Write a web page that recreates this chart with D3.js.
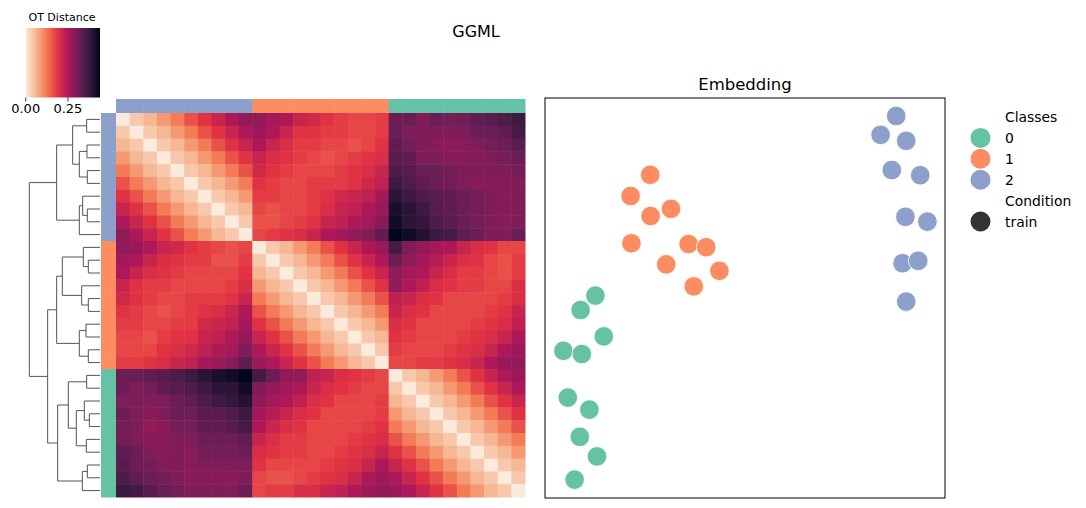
<!DOCTYPE html>
<html>
<head>
<meta charset="utf-8">
<script src="https://cdn.jsdelivr.net/npm/d3@7"></script>
<style>
  body { margin: 0; background: #fff; }
  svg { display: block; font-family: "DejaVu Sans", sans-serif; }
</style>
</head>
<body>
<div id="chart"></div>
<script>
// OT distances between the 30 datasets (x 0.01), rows already in dendrogram order
var otDist = [
  [0,4,6,9,12,16,19,22,25,28, 28,26,25,22,21,19,18,17,17,18, 32,32,30,32,31,31,33,34,35,37],
  [4,0,4,6,9,12,16,19,22,25, 27,25,22,19,19,18,18,17,17,18, 32,30,30,30,30,30,32,32,33,36],
  [6,4,0,4,6,9,12,16,19,22, 25,22,20,18,18,17,17,16,17,19, 33,31,30,29,28,29,30,31,32,34],
  [9,6,4,0,4,6,9,12,16,19, 22,20,19,18,17,16,17,18,19,20, 34,33,30,30,29,29,29,30,31,32],
  [12,9,6,4,0,4,6,9,12,16, 21,19,18,17,17,17,18,19,20,22, 35,34,32,32,31,30,30,30,30,31],
  [16,12,9,6,4,0,4,6,9,12, 19,18,17,17,18,18,18,19,21,23, 37,35,33,32,31,30,29,29,29,30],
  [19,16,12,9,6,4,0,4,6,9, 18,18,17,17,18,19,21,22,23,26, 39,37,35,34,33,32,31,30,29,30],
  [22,19,16,12,9,6,4,0,4,6, 17,16,17,17,18,20,22,23,25,27, 41,39,37,34,33,32,31,30,29,30],
  [25,22,19,16,12,9,6,4,0,4, 16,16,17,18,19,22,23,25,26,29, 42,39,38,35,34,32,31,30,29,30],
  [28,25,22,19,16,12,9,6,4,0, 17,18,19,20,22,25,26,28,30,33, 44,42,40,37,36,33,32,30,30,32],
  [28,27,25,22,21,19,18,17,16,17, 0,4,6,9,12,16,19,22,25,27, 36,30,28,26,25,22,20,19,17,17],
  [26,25,22,20,19,18,18,16,16,18, 4,0,4,6,9,12,16,19,22,25, 32,28,26,24,22,20,19,17,16,18],
  [25,22,20,19,18,17,17,17,17,19, 6,4,0,4,6,9,12,16,19,22, 28,26,25,22,20,18,18,17,16,18],
  [22,19,18,18,17,17,17,17,18,20, 9,6,4,0,4,6,9,12,16,19, 28,25,23,20,19,18,18,17,17,20],
  [21,19,18,17,17,18,18,18,19,22, 12,9,6,4,0,4,6,9,12,16, 23,22,20,19,17,17,17,17,18,20],
  [19,18,17,16,17,18,19,20,22,25, 16,12,9,6,4,0,4,6,9,12, 22,20,19,17,17,17,17,18,19,22],
  [18,18,17,17,18,18,21,22,23,26, 19,16,12,9,6,4,0,4,6,9, 20,19,17,17,17,17,18,19,20,23],
  [17,17,16,18,19,19,22,23,25,28, 22,19,16,12,9,6,4,0,4,6, 19,18,17,17,17,18,19,20,22,25],
  [17,17,17,19,20,21,23,25,26,30, 25,22,19,16,12,9,6,4,0,4, 18,17,17,17,18,19,20,22,25,27],
  [18,18,19,20,22,23,26,27,29,33, 27,25,22,19,16,12,9,6,4,0, 17,17,18,18,19,20,22,25,27,28],
  [32,32,33,34,35,37,39,41,42,44, 36,32,28,28,23,22,20,19,18,17, 0,4,6,9,12,16,19,22,25,27],
  [32,30,31,33,34,35,37,39,39,42, 30,28,26,25,22,20,19,18,17,17, 4,0,4,6,9,12,16,19,22,25],
  [30,30,30,30,32,33,35,37,38,40, 28,26,25,23,20,19,17,17,17,18, 6,4,0,4,6,9,12,16,19,22],
  [32,30,29,30,32,32,34,34,35,37, 26,24,22,20,19,17,17,17,17,18, 9,6,4,0,4,6,9,12,16,19],
  [31,30,28,29,31,31,33,33,34,36, 25,22,20,19,17,17,17,17,18,19, 12,9,6,4,0,4,6,9,12,16],
  [31,30,29,29,30,30,32,32,32,33, 22,20,18,18,17,17,17,18,19,20, 16,12,9,6,4,0,4,6,9,12],
  [33,32,30,29,30,29,31,31,31,32, 20,19,18,18,17,17,18,19,20,22, 19,16,12,9,6,4,0,4,6,9],
  [34,32,31,30,30,29,30,30,30,30, 19,17,17,17,17,18,19,20,22,25, 22,19,16,12,9,6,4,0,4,6],
  [35,33,32,31,30,29,29,29,29,30, 17,16,16,17,18,19,20,22,25,27, 25,22,19,16,12,9,6,4,0,4],
  [37,36,34,32,31,30,30,30,30,32, 17,18,18,20,20,22,23,25,27,28, 27,25,22,19,16,12,9,6,4,0]
];

// class of each matrix row / column
var rowClasses = [2,2,2,2,2,2,2,2,2,2, 1,1,1,1,1,1,1,1,1,1, 0,0,0,0,0,0,0,0,0,0];

// linkage: [childA, childB, height]; new nodes get ids 30, 31, ...
var linkage = [
  [0,1,0.40],[2,3,0.39],[4,5,0.38],[31,32,0.62],[30,33,0.82],
  [7,8,0.38],[6,35,0.52],[36,9,0.62],[34,37,1.30],
  [11,12,0.35],[10,39,0.50],[14,15,0.35],[13,41,0.55],[40,42,1.13],
  [16,17,0.42],[18,19,0.35],[44,45,0.62],[43,46,1.30],
  [20,21,0.40],[23,24,0.32],[22,49,0.47],[25,26,0.41],[50,51,0.71],
  [48,52,0.95],[27,28,0.38],[54,29,0.53],[53,55,1.27],
  [47,56,1.57],[38,57,2.12]
];

var classNames = ["0", "1", "2"];
var classColors = ["#66c2a5", "#fc8d62", "#8da0cb"];
var conditionNames = ["train"];

// 2-D embedding of the 30 datasets
var embX = [8.78,8.39,9.03,8.67,9.38,9.01,9.56,8.94,9.33,9.03,
            2.63,2.14,2.64,3.15,2.16,3.59,4.03,3.03,4.36,3.72,
            1.26,0.89,1.47,0.46,0.92,0.57,1.11,0.87,1.30,0.74];
var embY = [9.55,9.08,8.93,8.20,8.07,7.03,6.91,5.87,5.93,4.91,
            8.08,7.55,7.05,7.23,6.37,6.35,6.27,5.84,5.68,5.29,
            5.06,4.70,4.04,3.68,3.60,2.51,2.21,1.53,1.04,0.46];
var embClass = [2,2,2,2,2,2,2,2,2,2, 1,1,1,1,1,1,1,1,1,1, 0,0,0,0,0,0,0,0,0,0];

var cbTicks = [0, 0.25];
var vmax = 0.44;

var width = 1086, height = 508;
var svg = d3.select("#chart").append("svg")
  .attr("width", width).attr("height", height);
svg.append("rect").attr("width", width).attr("height", height).attr("fill", "white");

// rocket_r
var stops = [0, 0.143, 0.286, 0.429, 0.571, 0.714, 0.857, 1];
var rocketR = ["#faebdd","#f6b48f","#f37651","#e13342","#ad1759","#701f57","#35193e","#03051a"];
var color = d3.scaleLinear()
  .domain(stops.map(function(t) { return t * vmax; }))
  .range(rocketR)
  .clamp(true);

var n = otDist.length;
var idx = d3.range(n);
var hx = d3.scaleBand().domain(idx).range([116, 525]);
var hy = d3.scaleBand().domain(idx).range([113, 497]);

// heatmap cells
var cells = [];
otDist.forEach(function(row, i) {
  row.forEach(function(v, j) { cells.push({ i: i, j: j, v: v / 100 }); });
});
svg.append("g").selectAll("rect").data(cells).join("rect")
  .attr("x", function(d) { return hx(d.j); })
  .attr("y", function(d) { return hy(d.i); })
  .attr("width", hx.bandwidth() + 0.5)
  .attr("height", hy.bandwidth() + 0.5)
  .attr("fill", function(d) { return color(d.v); });

// row and column colour strips
svg.append("g").selectAll("rect").data(idx).join("rect")
  .attr("x", 101).attr("width", 15)
  .attr("y", function(d) { return hy(d); })
  .attr("height", hy.bandwidth() + 0.5)
  .attr("fill", function(d) { return classColors[rowClasses[d]]; });
svg.append("g").selectAll("rect").data(idx).join("rect")
  .attr("y", 99).attr("height", 14)
  .attr("x", function(d) { return hx(d); })
  .attr("width", hx.bandwidth() + 0.5)
  .attr("fill", function(d) { return classColors[rowClasses[d]]; });

// dendrogram (rows, left)
var maxH = d3.max(linkage, function(d) { return d[2]; });
var dx = d3.scaleLinear().domain([0, maxH]).range([100, 29.3]);
var pos = idx.map(function(i) { return { y: hy(i) + hy.bandwidth() / 2, h: 0 }; });
var dendro = svg.append("g").attr("fill", "none").attr("stroke", "#555").attr("stroke-width", 1);
linkage.forEach(function(l) {
  var a = pos[l[0]], b = pos[l[1]], h = l[2];
  dendro.append("path")
    .attr("d", "M" + dx(a.h) + "," + a.y + "H" + dx(h) + "V" + b.y + "H" + dx(b.h));
  pos.push({ y: (a.y + b.y) / 2, h: h });
});

// colour bar
var defs = svg.append("defs");
var grad = defs.append("linearGradient").attr("id", "cbar");
d3.range(0, 1.0001, 0.02).forEach(function(t) {
  grad.append("stop").attr("offset", t).attr("stop-color", color(t * vmax));
});
var cbx = d3.scaleLinear().domain([0, vmax]).range([25.7, 100]);
svg.append("rect").attr("x", 25.7).attr("y", 28).attr("width", 74.3).attr("height", 69.5)
  .attr("fill", "url(#cbar)");
var cbAxis = svg.append("g");
cbTicks.forEach(function(t) {
  cbAxis.append("line").attr("x1", cbx(t)).attr("x2", cbx(t))
    .attr("y1", 97.5).attr("y2", 101.5).attr("stroke", "#000").attr("stroke-width", 0.8);
  cbAxis.append("text").attr("x", cbx(t)).attr("y", 113.3).attr("text-anchor", "middle")
    .attr("font-size", 13).text(d3.format(".2f")(t));
});
svg.append("text").attr("x", 62).attr("y", 20.5).attr("text-anchor", "middle")
  .attr("font-size", 11).text("OT Distance");

// title
svg.append("text").attr("x", 476).attr("y", 37).attr("text-anchor", "middle")
  .attr("font-size", 16).text("GGML");

// embedding panel
var ex = d3.scaleLinear().domain([0, 10]).range([545, 945]);
var ey = d3.scaleLinear().domain([0, 10]).range([498, 98]);
svg.append("text").attr("x", 745).attr("y", 90).attr("text-anchor", "middle")
  .attr("font-size", 16.5).text("Embedding");
svg.append("g").selectAll("circle").data(idx).join("circle")
  .attr("cx", function(i) { return ex(embX[i]); })
  .attr("cy", function(i) { return ey(embY[i]); })
  .attr("r", 9.8)
  .attr("fill", function(i) { return classColors[embClass[i]]; })
  .attr("stroke", "white").attr("stroke-width", 0.8);
svg.append("rect").attr("x", 545).attr("y", 98).attr("width", 400).attr("height", 400)
  .attr("fill", "none").attr("stroke", "#000").attr("stroke-width", 1);

// legend
var leg = svg.append("g").attr("font-size", 13.9);
var legRows = [{ label: "Classes", head: true }];
classNames.forEach(function(c, k) { legRows.push({ label: c, color: classColors[k] }); });
legRows.push({ label: "Condition", head: true });
conditionNames.forEach(function(c) { legRows.push({ label: c, color: "#333333" }); });
legRows.forEach(function(r, k) {
  var cy = 117 + k * 20.9;
  if (!r.head) {
    leg.append("circle").attr("cx", 980.5).attr("cy", cy).attr("r", 10).attr("fill", r.color);
  }
  leg.append("text").attr("x", 1005).attr("y", cy + 5).text(r.label);
});
</script>
</body>
</html>
